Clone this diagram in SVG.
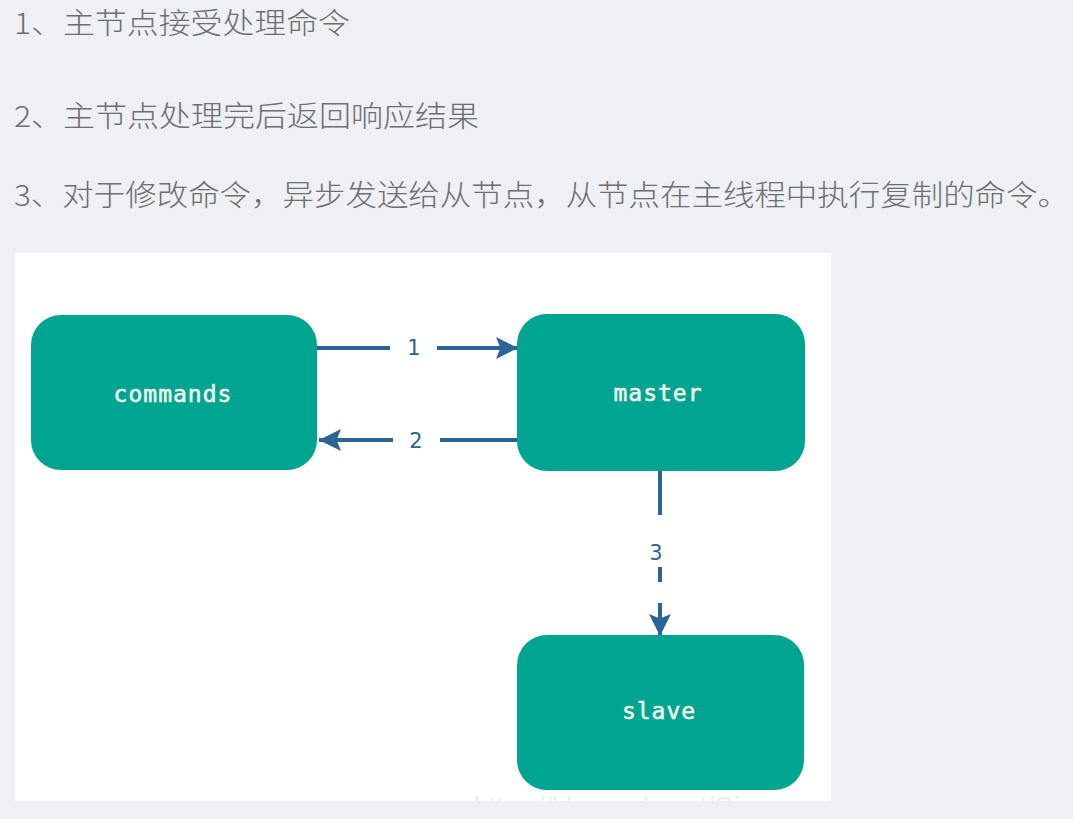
<svg xmlns="http://www.w3.org/2000/svg" width="1073" height="819" viewBox="0 0 1073 819">
<style>
.cap{font-family:"Microsoft YaHei","Noto Sans CJK SC",sans-serif;font-size:29px;font-weight:300;fill:#6e6e6e}
.node rect{fill:#00a591}
.node text{font-family:"DejaVu Sans Mono",monospace;font-size:23px;fill:#eef3ea;stroke:#eef3ea;stroke-width:0.6;text-anchor:middle;letter-spacing:1px}
.edge{stroke:#2a6499;stroke-width:4;fill:none}
.lbl{font-family:"DejaVu Sans","Noto Sans",sans-serif;font-size:21px;fill:#2a6499;text-anchor:middle}
</style>
<defs>
<marker id="arr" viewBox="0 0 10 10" refX="10" refY="5" markerWidth="5.5" markerHeight="5.5" markerUnits="strokeWidth" orient="auto">
<path d="M0,0 L10,5 L0,10 L2,5 Z" fill="#2a6499"/>
</marker>
<clipPath id="panel"><rect x="15" y="253" width="816" height="548"/></clipPath>
</defs>
<rect width="1073" height="819" fill="#eef0f4"/>
<g id="captions">
<text class="cap" x="14" y="34" textLength="336" lengthAdjust="spacingAndGlyphs">1、主节点接受处理命令</text>
<text class="cap" x="14" y="127" textLength="465" lengthAdjust="spacingAndGlyphs">2、主节点处理完后返回响应结果</text>
<text class="cap" x="14" y="206" textLength="1055" lengthAdjust="spacingAndGlyphs">3、对于修改命令，异步发送给从节点，从节点在主线程中执行复制的命令。</text>
</g>
<rect x="15" y="253" width="816" height="548" fill="#ffffff"/>
<text x="474" y="815" clip-path="url(#panel)" font-family="Liberation Sans, sans-serif" font-size="26" fill="#ebebeb">https://blog.csdn.net/Qiu</text>
<g id="connectors">
<line class="edge" x1="316" y1="348" x2="390" y2="348"/>
<line class="edge" x1="437" y1="348" x2="518" y2="348" marker-end="url(#arr)"/>
<text class="lbl" x="414" y="355">1</text>
<line class="edge" x1="517" y1="440" x2="440" y2="440"/>
<line class="edge" x1="393" y1="440" x2="319" y2="440" marker-end="url(#arr)"/>
<text class="lbl" x="416" y="448">2</text>
<line class="edge" x1="660" y1="471" x2="660" y2="515"/>
<line class="edge" x1="660" y1="567" x2="660" y2="582"/>
<line class="edge" x1="660" y1="603" x2="660" y2="636" marker-end="url(#arr)"/>
<text class="lbl" x="656" y="560" font-size="19">3</text>
</g>
<g id="commands" class="node">
<rect x="31" y="315" width="286" height="155" rx="30"/>
<text x="173" y="402">commands</text>
</g>
<g id="master" class="node">
<rect x="517" y="314" width="288" height="157" rx="30"/>
<text x="658" y="401">master</text>
</g>
<g id="slave" class="node">
<rect x="517" y="635" width="287" height="155" rx="30"/>
<text x="659" y="719">slave</text>
</g>
</svg>
